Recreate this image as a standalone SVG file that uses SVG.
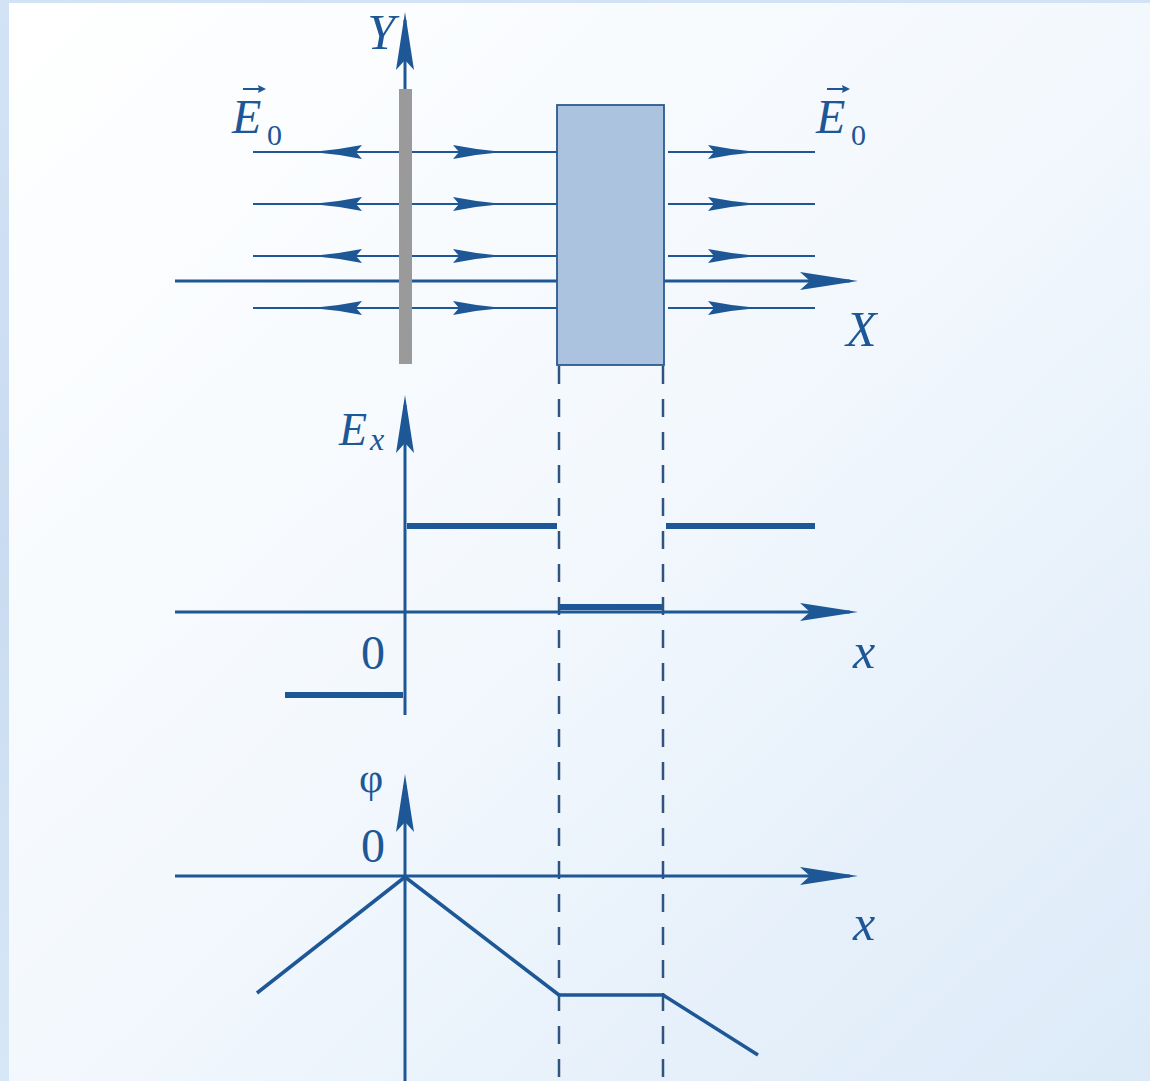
<svg xmlns="http://www.w3.org/2000/svg" width="1150" height="1081" viewBox="0 0 1150 1081">
<defs>
<linearGradient id="bg" x1="0" y1="0" x2="1" y2="1">
<stop offset="0" stop-color="#ffffff"/>
<stop offset="0.5" stop-color="#f3f8fd"/>
<stop offset="1" stop-color="#dceaf8"/>
</linearGradient>
<linearGradient id="strip" x1="0" y1="0" x2="0" y2="1">
<stop offset="0" stop-color="#d3e3f6"/>
<stop offset="0.5" stop-color="#c9dbf0"/>
<stop offset="1" stop-color="#d6e7f7"/>
</linearGradient>
<path id="dartR" d="M0,0 Q-25,-2 -50,-7 L-44,0 L-50,7 Q-25,2 0,0 Z"/>
<path id="dartL" d="M0,0 Q25,-2 50,-7 L44,0 L50,7 Q25,2 0,0 Z"/>
<path id="axR" d="M0,0 L-58,-9 L-48,0 L-58,9 Z"/>
<path id="axU" d="M0,0 L-9,58 L0,48 L9,58 Z"/>
</defs>
<style>
.ln{stroke:#1d5796;fill:none}
.thin{stroke-width:1.8}
.axis{stroke-width:3}
.thick{stroke-width:6}
.dash{stroke:#2f5480;stroke-width:2.5;stroke-dasharray:18 15;fill:none}
.ah{fill:#1d5796}
.t{font-family:"Liberation Serif","Times New Roman",serif;fill:#1d5796}
.it{font-style:italic}
</style>
<rect x="0" y="0" width="1150" height="1081" fill="url(#bg)"/>
<rect x="0" y="0" width="9" height="1081" fill="url(#strip)"/>
<rect x="0" y="0" width="1150" height="3" fill="#d3e3f6"/>

<g id="connectors">
<line class="ln thin" x1="253" y1="152" x2="557" y2="152"/>
<line class="ln thin" x1="253" y1="204" x2="557" y2="204"/>
<line class="ln thin" x1="253" y1="256" x2="557" y2="256"/>
<line class="ln thin" x1="253" y1="308" x2="557" y2="308"/>
<line class="ln thin" x1="668" y1="152" x2="815" y2="152"/>
<line class="ln thin" x1="668" y1="204" x2="815" y2="204"/>
<line class="ln thin" x1="668" y1="256" x2="815" y2="256"/>
<line class="ln thin" x1="668" y1="308" x2="815" y2="308"/>
<g class="ah">
<use href="#dartL" x="312" y="152"/><use href="#dartL" x="312" y="204"/><use href="#dartL" x="312" y="256"/><use href="#dartL" x="312" y="308"/>
<use href="#dartR" x="503" y="152"/><use href="#dartR" x="503" y="204"/><use href="#dartR" x="503" y="256"/><use href="#dartR" x="503" y="308"/>
<use href="#dartR" x="758" y="152"/><use href="#dartR" x="758" y="204"/><use href="#dartR" x="758" y="256"/><use href="#dartR" x="758" y="308"/>
</g>
<line class="ln axis" x1="175" y1="281" x2="850" y2="281"/>
<use class="ah" href="#axR" x="858" y="281"/>
<line class="ln axis" x1="405" y1="95" x2="405" y2="20"/>
<use class="ah" href="#axU" x="405" y="12"/>
<line class="dash" x1="559" y1="366" x2="559" y2="1081"/>
<line class="dash" x1="663" y1="366" x2="663" y2="1081"/>
<line class="ln axis" x1="405" y1="715" x2="405" y2="405"/>
<use class="ah" href="#axU" x="405" y="395"/>
<line class="ln axis" x1="175" y1="612" x2="850" y2="612"/>
<use class="ah" href="#axR" x="858" y="612"/>
<line class="ln thick" x1="407" y1="526" x2="557" y2="526"/>
<line class="ln thick" x1="666" y1="526" x2="815" y2="526"/>
<line class="ln thick" x1="560" y1="607" x2="662" y2="607"/>
<line class="ln thick" x1="285" y1="695" x2="403" y2="695"/>
<line class="ln axis" x1="405" y1="1081" x2="405" y2="785"/>
<use class="ah" href="#axU" x="405" y="774"/>
<line class="ln axis" x1="175" y1="876" x2="850" y2="876"/>
<use class="ah" href="#axR" x="858" y="876"/>
<polyline class="ln" stroke-width="3.5" stroke-linejoin="round" points="257,993 405,877 559,995 663,995 758,1055"/>
</g>

<g id="plate">
<rect x="399" y="89" width="13" height="275" fill="#9a9a9a"/>
</g>
<g id="slab">
<rect x="557" y="105" width="107" height="260" fill="#abc3de" stroke="#2a5a90" stroke-width="1.8"/>
</g>

<g id="labels">
<text class="t it" x="395" y="49" font-size="50" text-anchor="end">Y</text>
<g id="E0-left">
<text class="t it" x="232" y="133" font-size="48">E</text>
<text class="t" x="267" y="145" font-size="30">0</text>
<line x1="243" y1="89" x2="264" y2="89" stroke="#1d5796" stroke-width="2"/>
<path class="ah" d="M266,89 L258,85 L259,89 L258,93 Z"/>
</g>
<g id="E0-right">
<text class="t it" x="816" y="133" font-size="48">E</text>
<text class="t" x="851" y="145" font-size="30">0</text>
<line x1="827" y1="89" x2="848" y2="89" stroke="#1d5796" stroke-width="2"/>
<path class="ah" d="M850,89 L842,85 L843,89 L842,93 Z"/>
</g>
<text class="t it" x="846" y="346" font-size="50">X</text>
<text class="t it" x="339" y="445" font-size="46">E</text>
<text class="t it" x="370" y="450" font-size="32">x</text>
<text class="t" x="361" y="669" font-size="48">0</text>
<text class="t it" x="853" y="668" font-size="50">x</text>
<text class="t" x="359" y="792" font-size="42">φ</text>
<text class="t" x="361" y="862" font-size="48">0</text>
<text class="t it" x="853" y="940" font-size="50">x</text>
</g>
</svg>
